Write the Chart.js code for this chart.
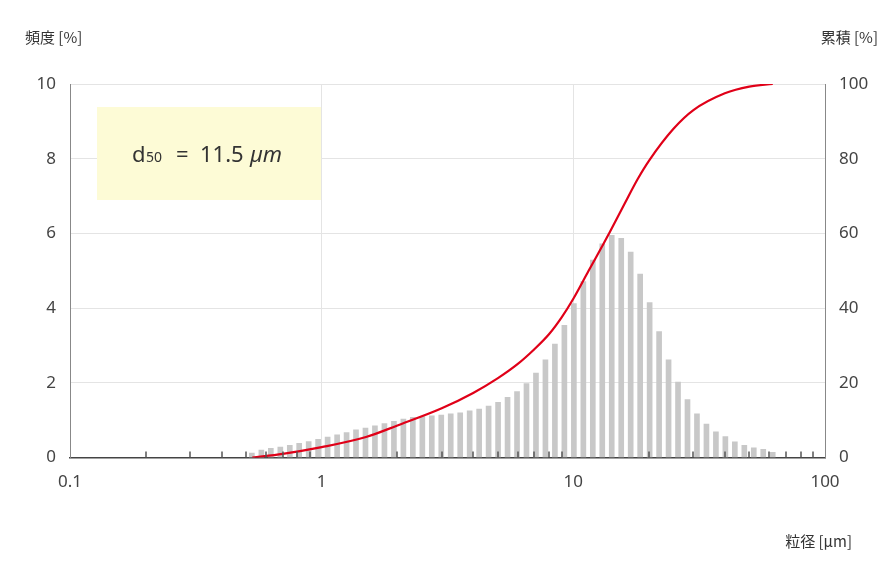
<!DOCTYPE html>
<html><head><meta charset="utf-8">
<script src="https://cdn.jsdelivr.net/npm/chart.js@4"></script>
<style>body{margin:0;background:#fff}#wrap{width:896px;height:583px}</style>
</head><body><div id="wrap"><canvas id="c"></canvas></div>
<script>
// 粒径 (µm) bins
var sizes = [0.528,0.576,0.628,0.685,0.747,0.814,0.888,0.968,1.056,1.152,1.256,1.369,1.493,1.628,1.776,1.937,2.112,2.303,2.512,2.739,2.987,3.257,3.552,3.873,4.224,4.606,5.023,5.478,5.974,6.514,7.104,7.747,8.448,9.213,10.05,10.96,11.95,13.03,14.21,15.50,16.90,18.43,20.10,21.92,23.90,26.06,28.42,30.99,33.80,36.86,40.19,43.83,47.80,52.12,56.84,61.99];
// 頻度 (%)
var freq = [0.12,0.2,0.25,0.28,0.33,0.38,0.43,0.49,0.55,0.61,0.67,0.74,0.79,0.85,0.91,0.97,1.03,1.08,1.10,1.12,1.14,1.17,1.2,1.25,1.3,1.38,1.48,1.61,1.77,1.98,
  2.26,2.62,3.04,3.54,4.12,4.71,5.29,5.72,5.95,5.87,5.5,4.91,4.15,3.37,2.62,2.02,1.55,1.17,0.9,0.69,0.56,0.42,0.33,0.26,0.22,0.14];
// 累積 (%)
var cumX = [0.53,0.7,1,1.5,2,3,4,5,6,7,8,9,10,11.5,13,14,16,18,20,25,30,40,50,62];
var cumY = [0,1,2.8,5.5,8.6,13.2,17.3,21.2,25,29,33,37.6,42.5,50,56.5,60.5,68,74.5,79.5,88,93,97.5,99.3,100];
var xTicks = [0.1,1,10,100];

var extras = {
  id:'extras',
  beforeDatasetsDraw: function(ch){
    var c = ch.ctx;
    c.save();
    c.fillStyle = '#fdfbd6';
    c.fillRect(97,107,224,93);
    c.restore();
  },
  afterDraw: function(ch){
    var c = ch.ctx, xs = ch.scales.x, a = ch.chartArea;
    c.save();
    c.strokeStyle = '#555'; c.lineWidth = 1.5;
    for (var d = 0.1; d < 100; d *= 10) {
      for (var m = 2; m <= 9; m++) {
        var px = Math.round(xs.getPixelForValue(d*m));
        c.beginPath(); c.moveTo(px, a.bottom); c.lineTo(px, a.bottom-6); c.stroke();
      }
    }
    c.fillStyle = '#333';
    c.font = '22px "Noto Sans"';
    c.textBaseline = 'alphabetic';
    c.fillText('d', 132, 162);
    c.font = '14px "Noto Sans"';
    c.fillText('50', 146, 162);
    c.font = '22px "Noto Sans"';
    c.fillText('=  11.5', 176, 162);
    c.font = 'italic 22px "Noto Sans"';
    c.fillText('µm', 250, 162);
    c.font = '15px "Noto Sans CJK JP"';
    c.textAlign = 'left';
    c.fillText('頻度 [%]', 25, 43);
    c.textAlign = 'right';
    c.fillText('累積 [%]', 878, 43);
    c.fillText('粒径 [µm]', 852, 547);
    c.restore();
  }
};

new Chart(document.getElementById('c'), {
  type: 'bar',
  data: {
    datasets: [{
      type: 'line',
      data: cumX.map(function(x,i){ return {x:x, y:cumY[i]}; }),
      yAxisID: 'y2',
      borderColor: '#e00018', borderWidth: 2.2,
      pointRadius: 0, cubicInterpolationMode: 'monotone', fill: false
    },{
      data: sizes.map(function(x,i){ return {x:x, y:freq[i]}; }),
      yAxisID: 'y',
      backgroundColor: '#c8c8c8',
      barThickness: 5
    }]
  },
  plugins: [extras],
  options: {
    responsive: true, maintainAspectRatio: false, animation: false,
    layout: {padding: {top: 84, left: 0, right: 0, bottom: 77}},
    plugins: {legend: {display: false}, tooltip: {enabled: false}},
    scales: {
      x: {
        type: 'logarithmic', min: 0.1, max: 100, offset: false,
        afterBuildTicks: function(s){ s.ticks = xTicks.map(function(v){ return {value:v}; }); },
        ticks: {color:'#444', font:{size:17, family:'"Noto Sans"'}, padding: 14,
          callback: function(v){ return String(v); }},
        grid: {color:'#e4e4e4', drawTicks: false, offset: false},
        border: {color:'#444', width: 1.5}
      },
      y: {
        position: 'left', min: 0, max: 10,
        afterFit: function(s){ s.width = 70; },
        ticks: {stepSize: 2, color:'#444', font:{size:17, family:'"Noto Sans"'}, padding: 14},
        grid: {color:'#e4e4e4', drawTicks: false},
        border: {color:'#888'}
      },
      y2: {
        position: 'right', min: 0, max: 100,
        afterFit: function(s){ s.width = 71; },
        ticks: {stepSize: 20, color:'#444', font:{size:17, family:'"Noto Sans"'}, padding: 14},
        grid: {display: false, drawTicks: false},
        border: {color:'#888'}
      }
    }
  }
});
</script></body></html>
